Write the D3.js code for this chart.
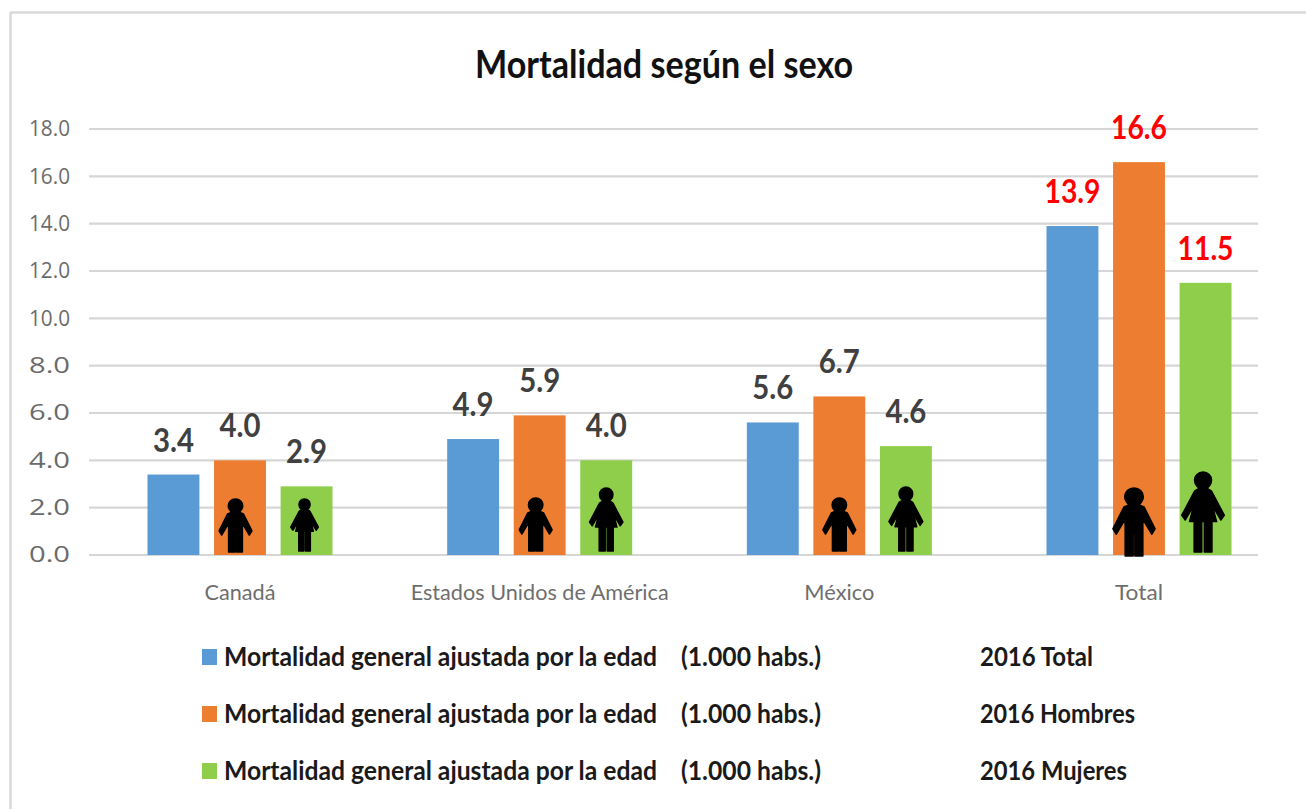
<!DOCTYPE html>
<html><head><meta charset="utf-8">
<script src="https://cdn.jsdelivr.net/npm/d3@7/dist/d3.min.js"></script>
<style>html,body{margin:0;padding:0;background:#fff;overflow:hidden}svg{display:block}text{font-family:Lato,"Open Sans",sans-serif}</style>
</head><body><svg id="c" width="1306" height="809"></svg>
<script>
const categories = ["Canadá","Estados Unidos de América","México","Total"];
const seriesKeys = ["Total","Hombres","Mujeres"];
const totalValues = [3.4,4.9,5.6,13.9];
const hombresValues = [4.0,5.9,6.7,16.6];
const mujeresValues = [2.9,4.0,4.6,11.5];
const seriesColors = ["#5b9bd5","#ed7d31","#8fce4a"];
const yTicks = [0,2,4,6,8,10,12,14,16,18];
const legendMain = "Mortalidad general ajustada por la edad";
const legendUnit = "(1.000 habs.)";
const legendYears = ["2016 Total","2016 Hombres","2016 Mujeres"];
const title = "Mortalidad según el sexo";
// decorative pictograms: [series index, category index, dx from bar centre, top px, bottom px]
const iconLayout = [
 [1,0,-4.5,499,552],[2,0,-2,499,551],[1,1,-4,498,551],[2,1,0,488,551],
 [1,2,0,498,551],[2,2,0,487,551],[1,3,-5,488,556],[2,3,-2.5,472,552]];

const svg = d3.select("#c");
const seriesValues = [totalValues,hombresValues,mujeresValues];
const x0 = d3.scalePoint().domain(categories).range([240,1139]);
const x1 = d3.scaleBand().domain(d3.range(3)).range([-92.5,92.5]).paddingInner(0.22).paddingOuter(0);
const y = d3.scaleLinear().domain([0,18]).range([555,129]);

// frame
svg.append("path").attr("d","M10.5,809V13.5Q10.5,12.5 11.5,12.5H1306").attr("fill","none").attr("stroke","#d9d9d9").attr("stroke-width",2.5);

// grid
svg.append("g").selectAll("line").data(yTicks).join("line")
 .attr("x1",89).attr("x2",1258).attr("y1",d=>y(d)).attr("y2",d=>y(d))
 .attr("stroke","#d6d6d6").attr("stroke-width",2.2);

// y labels
const yAxis = d3.axisLeft(y).tickValues(yTicks).tickFormat(d3.format(".1f")).tickSize(0);
const ga = svg.append("g").attr("transform","translate(70,0)").call(yAxis);
ga.select(".domain").remove();
ga.selectAll("text").attr("x",0).attr("fill","#6b6b6b").style("font-size","21px").style("font-family","'Open Sans'").attr("textLength",41).attr("lengthAdjust","spacingAndGlyphs");

// bars
seriesValues.forEach((vals,s)=>{
 svg.append("g").selectAll("rect").data(vals).join("rect")
  .attr("x",(d,i)=>x0(categories[i])+x1(s))
  .attr("width",x1.bandwidth()).attr("y",d=>y(d)).attr("height",d=>y(0)-y(d))
  .attr("fill",seriesColors[s]);
 svg.append("g").selectAll("text").data(vals).join("text")
  .attr("x",(d,i)=>x0(categories[i])+x1(s)+x1.bandwidth()/2)
  .attr("y",d=>y(d)-23)
  .attr("text-anchor","middle")
  .attr("fill",(d,i)=>i===3?"#ff0000":"#404040")
  .style("font-size","32px").style("font-weight",700)
  .attr("lengthAdjust","spacingAndGlyphs")
  .attr("textLength",d=>d>=10?56:41)
  .text(d=>d.toFixed(1));
});

// category labels
svg.append("g").selectAll("text").data(categories).join("text")
 .attr("x",d=>x0(d)).attr("y",600).attr("text-anchor","middle").attr("fill","#6e6e6e")
 .style("font-size","22px").text(d=>d)
 .each(function(d){ this.setAttribute("textLength", {"Canadá":71,"Estados Unidos de América":258,"México":70,"Total":48}[d]); this.setAttribute("lengthAdjust","spacingAndGlyphs"); });

// pictograms (unit box: x -0.5..0.5 relative, y 0..1)
const manPath = "M0,0C.13,0 .22,.06 .22,.13C.22,.18 .17,.22 .12,.25L.24,.28L.5,.6L.42,.68L.21,.46V1H.02V.68H-.02V1H-.21V.46L-.42,.68L-.5,.6L-.24,.28L-.12,.25C-.17,.22 -.22,.18 -.22,.13C-.22,.06 -.13,0 0,0Z";
const womanPath = "M0,0C.12,0 .2,.05 .2,.1C.2,.15 .14,.19 .09,.2L.2,.24L.5,.54L.42,.6L.22,.42L.32,.62H.21V1H.03V.62H-.03V1H-.21V.62H-.32L-.22,.42L-.42,.6L-.5,.54L-.2,.24L-.09,.2C-.14,.19 -.2,.15 -.2,.1C-.2,.05 -.12,0 0,0Z";
svg.append("g").selectAll("path").data(iconLayout).join("path")
 .attr("d",d=>d[0]===1?manPath:womanPath)
 .attr("fill","#000").attr("stroke","#000").attr("stroke-width",1.5)
 .attr("stroke-linejoin","round").attr("vector-effect","non-scaling-stroke")
 .attr("transform",d=>{
   const cx=x0(categories[d[1]])+x1(d[0])+x1.bandwidth()/2+d[2], h=d[4]-d[3];
   return `translate(${cx},${d[3]}) scale(${h*(d[0]===1?0.62:0.53)},${h})`;
 });

// legend
const ly = d3.scalePoint().domain(d3.range(3)).range([658,772]);
const lg = svg.append("g").selectAll("g").data(d3.range(3)).join("g");
lg.append("rect").attr("x",202).attr("y",d=>ly(d)-9).attr("width",15).attr("height",16).attr("fill",d=>seriesColors[d]);
const lt=(xp,len,fn)=>lg.append("text").attr("x",xp).attr("y",d=>ly(d)+8).attr("fill","#1a1a1a")
 .style("font-size","26px").style("font-weight",700).text(fn)
 .attr("lengthAdjust","spacingAndGlyphs").each(function(d){this.setAttribute("textLength",typeof len==="function"?len(d):len);});
lt(224,433,()=>legendMain);
lt(681,140,()=>legendUnit);
lt(980,d=>[113,155,147][d],d=>legendYears[d]);

// title
svg.append("text").attr("x",664).attr("y",78).attr("text-anchor","middle").attr("fill","#111")
 .attr("textLength",378).attr("lengthAdjust","spacingAndGlyphs")
 .style("font-size","39px").style("font-weight",700).text(title);
</script></body></html>
